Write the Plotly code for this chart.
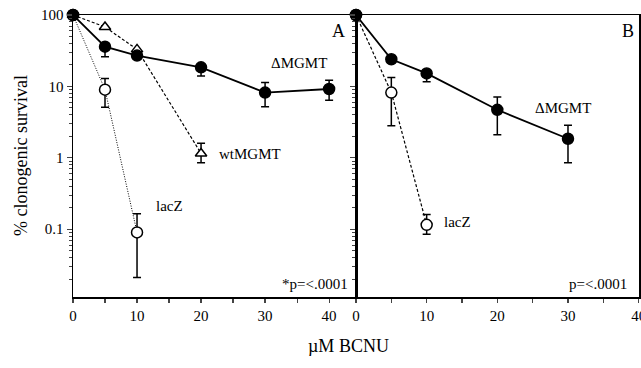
import math
import plotly.graph_objects as go

# ---- data ----
dose_A_mgmt = [0, 5, 10, 20, 30, 40]
surv_A_mgmt = [100, 36, 27, 18.5, 8.2, 9.2]
up_A_mgmt = [None, None, None, None, 11.3, 12.2]
lo_A_mgmt = [None, 26, None, 14.0, 5.2, 6.4]

dose_A_wt = [0, 5, 10, 20]
surv_A_wt = [100, 68, 33, 1.15]
up_A_wt = [None, None, None, 1.6]
lo_A_wt = [None, None, None, 0.85]

dose_A_lacz = [0, 5, 10]
surv_A_lacz = [100, 9.0, 0.09]
up_A_lacz = [None, 12.9, 0.165]
lo_A_lacz = [None, 5.1, 0.021]

dose_B_mgmt = [0, 5, 10, 20, 30]
surv_B_mgmt = [100, 24, 15.2, 4.7, 1.85]
up_B_mgmt = [None, None, None, 7.1, 2.85]
lo_B_mgmt = [None, None, 11.6, 2.1, 0.85]

dose_B_lacz = [0, 5, 10]
surv_B_lacz = [100, 8.2, 0.115]
up_B_lacz = [None, 13.3, 0.16]
lo_B_lacz = [None, 2.8, 0.085]

x_ticks = [0, 10, 20, 30, 40]
y_ticks = [0.1, 1, 10, 100]
y_ticktext = ["0.1", "1", "10", "100"]

FONT = "Liberation Serif"


def err(y, up, lo):
    plus = [(u - v) if u is not None else 0 for v, u in zip(y, up)]
    minus = [(v - l) if l is not None else 0 for v, l in zip(y, lo)]
    return dict(type="data", array=plus, arrayminus=minus, symmetric=False,
                color="black", thickness=1.5, width=4)


def trace(x, y, up, lo, xa, ya, symbol, fill, dash, lw):
    return go.Scatter(
        x=x, y=y, mode="lines+markers", xaxis=xa, yaxis=ya,
        line=dict(color="black", width=lw, dash=dash),
        marker=dict(symbol=symbol, size=11 if symbol == "circle" else 10,
                    color=fill, line=dict(color="black", width=1.5)),
        error_y=err(y, up, lo), cliponaxis=False, showlegend=False,
        hoverinfo="skip")


fig = go.Figure()
fig.add_trace(trace(dose_A_lacz, surv_A_lacz, up_A_lacz, lo_A_lacz, "x", "y",
                    "circle", "white", "1px,1.5px", 1))
fig.add_trace(trace(dose_A_wt, surv_A_wt, up_A_wt, lo_A_wt, "x", "y",
                    "triangle-up", "white", "3px,2px", 1.2))
fig.add_trace(trace(dose_A_mgmt, surv_A_mgmt, up_A_mgmt, lo_A_mgmt, "x", "y",
                    "circle", "black", "solid", 1.8))
fig.add_trace(trace(dose_B_lacz, surv_B_lacz, up_B_lacz, lo_B_lacz, "x2", "y2",
                    "circle", "white", "3px,2px", 1.2))
fig.add_trace(trace(dose_B_mgmt, surv_B_mgmt, up_B_mgmt, lo_B_mgmt, "x2", "y2",
                    "circle", "black", "solid", 1.8))

tickfont = dict(family=FONT, size=15, color="black")
xcommon = dict(tickmode="array", tickvals=x_ticks, ticks="outside", ticklen=4,
               tickwidth=1.2, showline=True, linecolor="black", linewidth=1.5,
               mirror=True, showgrid=False, zeroline=False, tickfont=tickfont,
               ticklabeloverflow="allow",
               minor=dict(dtick=5, ticks="outside", ticklen=4, tickwidth=1.2,
                          showgrid=False))
ycommon = dict(type="log", range=[-1.95, 2], tickmode="array", tickvals=y_ticks,
               ticktext=y_ticktext, ticks="outside", ticklen=5, tickwidth=1.2,
               showline=True, linecolor="black", linewidth=1.5, mirror=True,
               showgrid=False, zeroline=False, tickfont=tickfont,
               minor=dict(dtick="D1", ticks="outside", ticklen=3, tickwidth=1,
                          showgrid=False))

fig.update_layout(
    width=649, height=368,
    margin=dict(l=73, r=3, t=15, b=71),
    paper_bgcolor="white", plot_bgcolor="white",
    font=dict(family=FONT, color="black"),
    hovermode=False,
    xaxis=dict(domain=[0, 0.5], range=[0, 44.2], anchor="y", **xcommon),
    xaxis2=dict(domain=[0.5, 1], range=[0, 40.05], anchor="y2", **xcommon),
    yaxis=dict(anchor="x", **ycommon),
    yaxis2=dict(anchor="x2", showticklabels=False, **ycommon),
)

ann = [
    ("A", "x", "y", 41.4, 59, 18, "center"),
    ("B", "x2", "y2", 38.5, 59, 18, "center"),
    ("ΔMGMT", "x", "y", 35.3, 21, 15, "center"),
    ("ΔMGMT", "x2", "y2", 29.3, 4.96, 15, "center"),
    ("wtMGMT", "x", "y", 27.6, 1.13, 15, "center"),
    ("lacZ", "x", "y", 15.0, 0.21, 15, "center"),
    ("lacZ", "x2", "y2", 14.3, 0.125, 15, "center"),
    ("*p=<.0001", "x", "y", 43.3, 0.0171, 15, "right"),
    ("p=<.0001", "x2", "y2", 38.6, 0.0171, 15, "right"),
]
for t, xr, yr, xv, yv, fs, xa in ann:
    fig.add_annotation(text=t, xref=xr, yref=yr, x=xv, y=math.log10(yv),
                       showarrow=False, xanchor=xa, yanchor="middle",
                       font=dict(family=FONT, size=fs, color="black"))

fig.add_annotation(text="µM BCNU", xref="paper", yref="paper", x=(347 - 72) / 566,
                   y=-(346 - 297) / 282, showarrow=False, xanchor="center",
                   yanchor="middle", font=dict(family=FONT, size=18, color="black"))
fig.add_annotation(text="% clonogenic survival", xref="paper", yref="paper",
                   x=-(72 - 20) / 566, y=0.5, textangle=-90, showarrow=False,
                   xanchor="center", yanchor="middle",
                   font=dict(family=FONT, size=18, color="black"))

fig.write_html("out.html", config={"displayModeBar": False, "staticPlot": True},
               post_script="document.body.style.margin='0';document.body.style.padding='0';")
